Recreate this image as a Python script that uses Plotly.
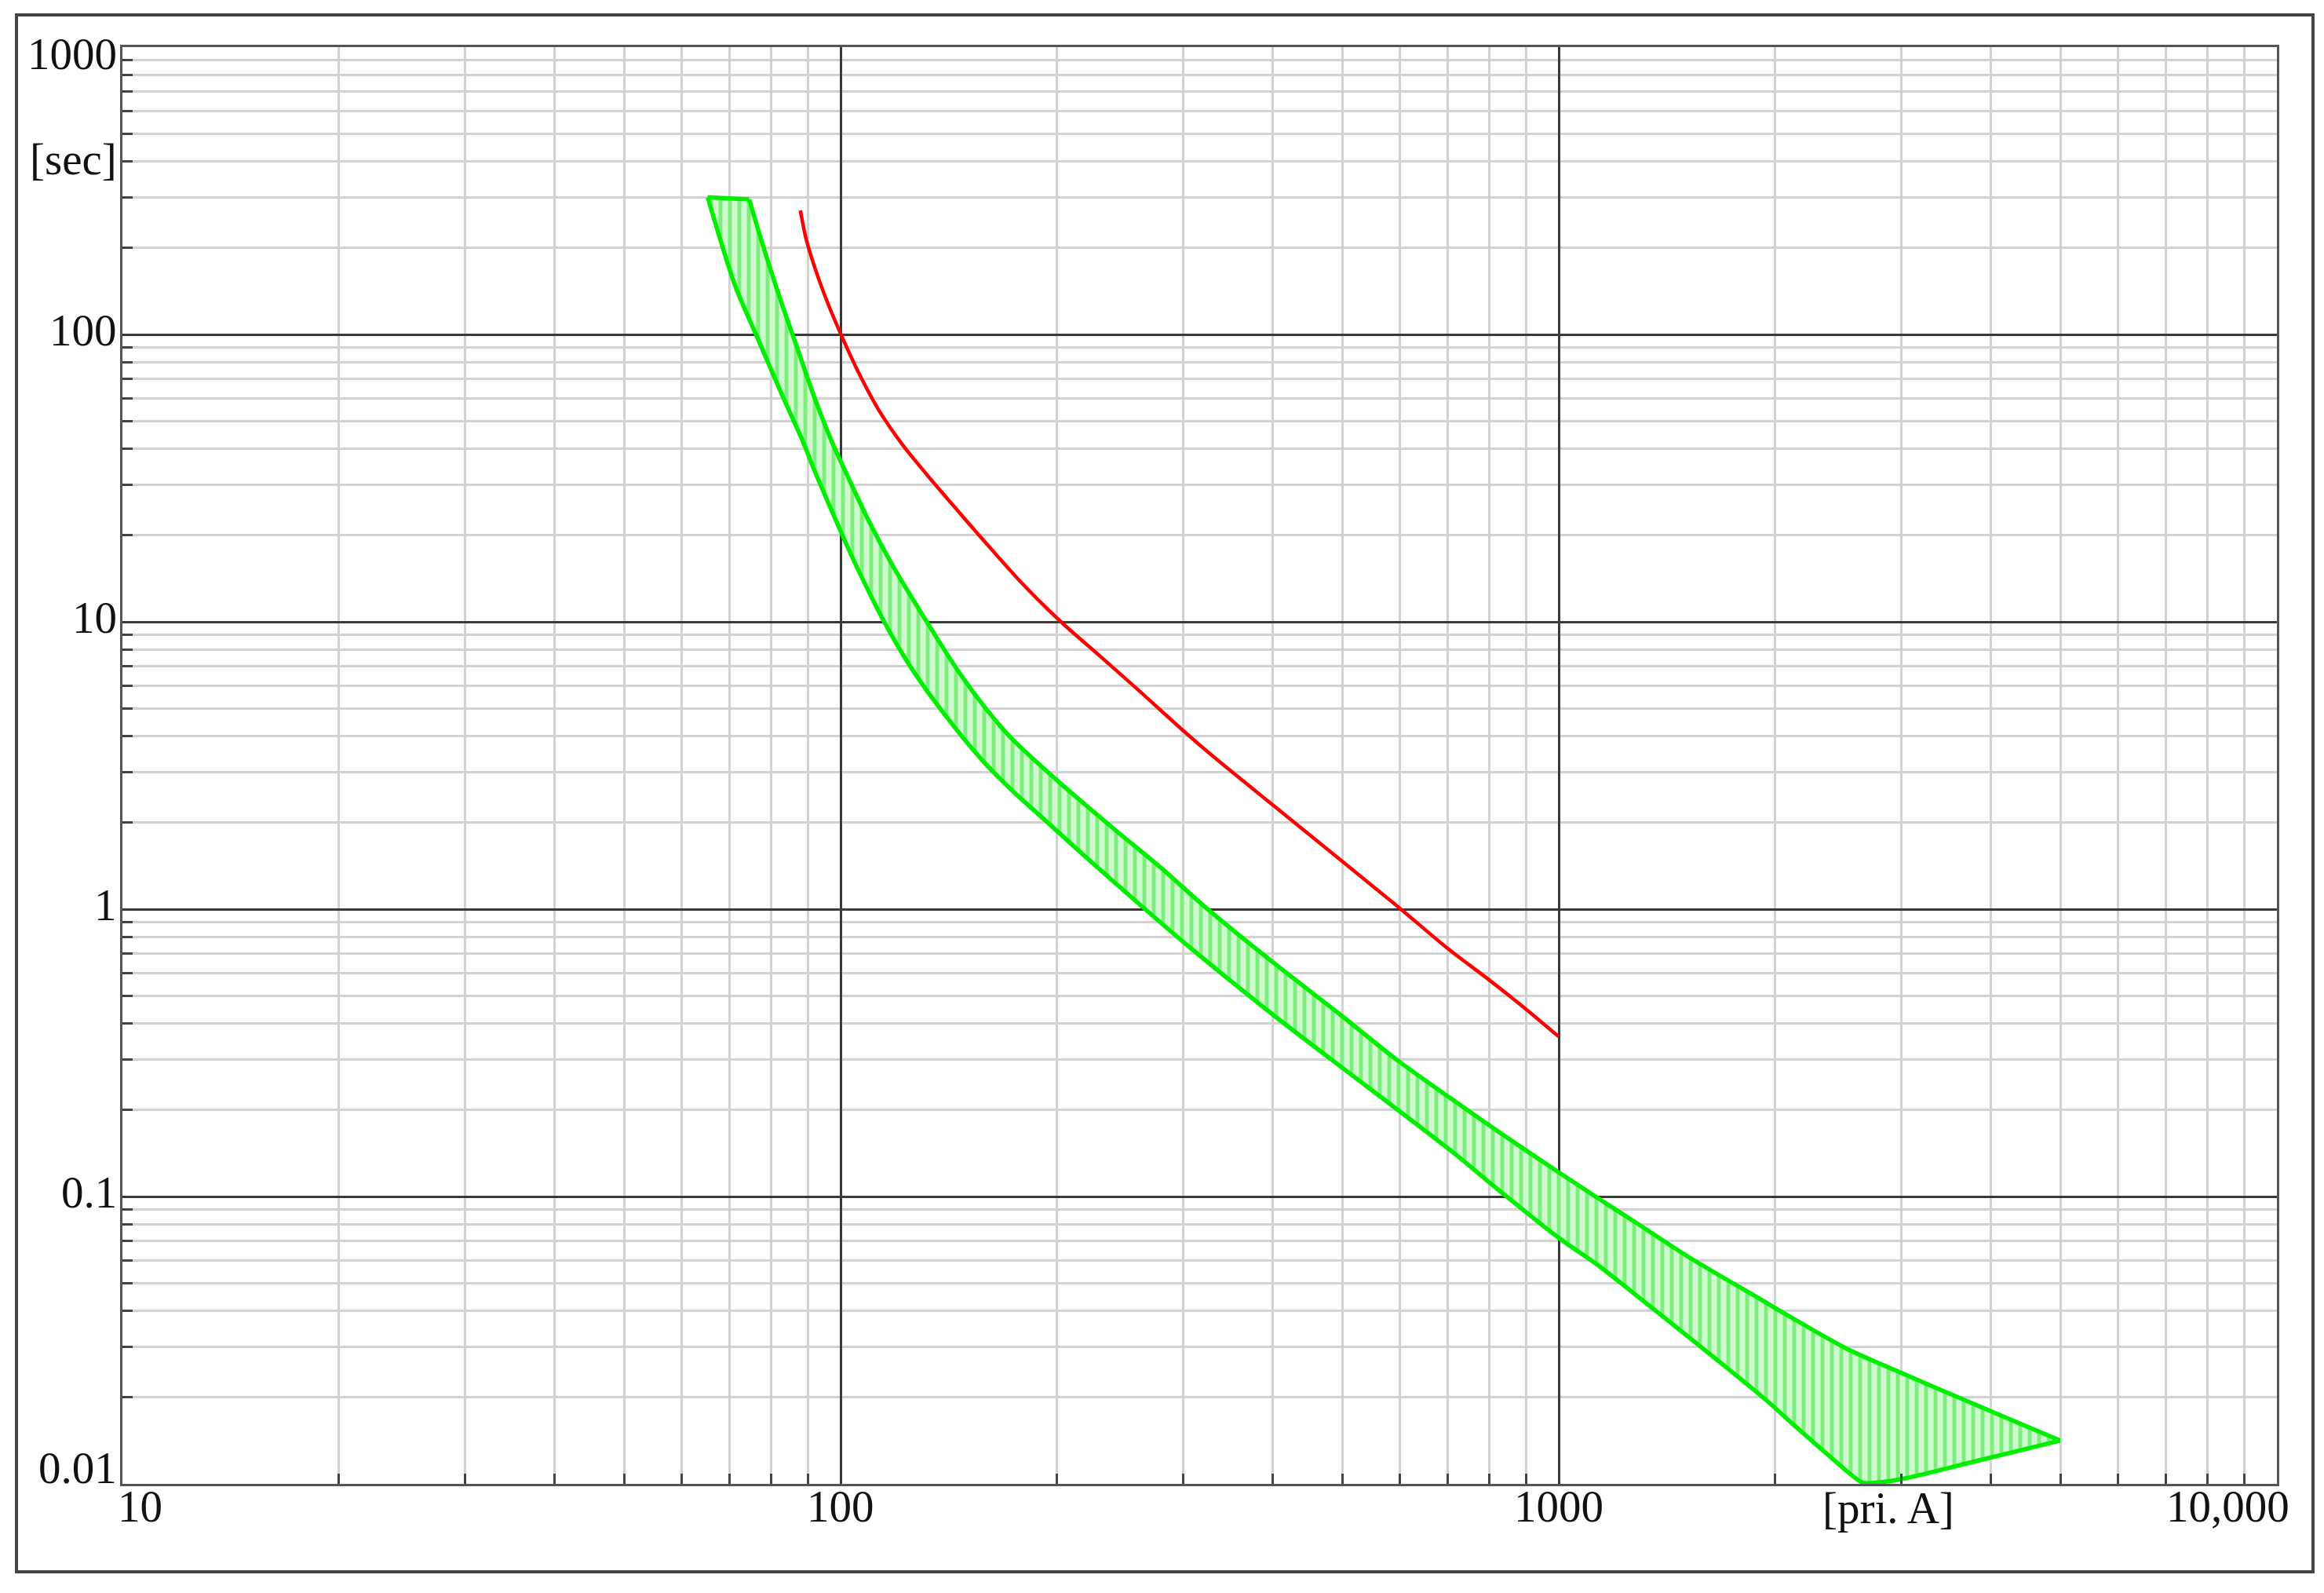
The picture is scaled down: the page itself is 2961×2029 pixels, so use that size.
import numpy as np
import plotly.graph_objects as go

# ---------------- data ----------------
# Red relay curve: current [pri. A] vs time [sec]
red_current = [87.9, 89.5, 92.5, 96.4, 100.2, 105.7, 113.2, 122, 131.5, 143.1, 157,
               179.5, 202.7, 227, 259.6, 301, 333.6, 401, 499, 600, 698, 798, 899, 1000]
red_time = [270, 216, 165, 125, 99.6, 74.5, 54.2, 41.3, 32.8, 25.6, 19.6,
            13.5, 10.0, 7.8, 5.8, 4.15, 3.33, 2.29, 1.47, 1.01, 0.735, 0.57, 0.45, 0.36]

# Green fuse band: lower (left) boundary, from top-left corner to the tip
band_lower_current = [65.3, 71.3, 76.3, 83.2, 88.7, 91.7, 96.1, 101.5, 105.5, 115, 125,
                      139.5, 157, 173.5, 191.8, 219.4, 259.6, 301.7, 401, 483, 710, 826,
                      1002, 1136, 1256, 1590, 1943, 2115, 2399, 2650, 2764, 3006, 3803, 4990]
band_lower_time = [300, 148, 99.6, 60.3, 42.2, 34.2, 26, 19, 15.4, 10.0, 7.0,
                   4.77, 3.33, 2.58, 2.06, 1.52, 1.05, 0.76, 0.427, 0.299, 0.1435, 0.105,
                   0.0715, 0.0575, 0.0472, 0.0295, 0.0196, 0.0162, 0.0123, 0.0101, 0.0101,
                   0.0104, 0.01198, 0.01415]

# Green fuse band: upper (right) boundary, from top-right corner to the tip
band_upper_current = [74.6, 77.6, 82.3, 87.3, 91.7, 97.3, 102.3, 109.4, 118, 131.5, 146.6,
                      159.5, 173.5, 201.7, 238.6, 282.4, 320, 401, 499, 595, 710, 839,
                      1002, 1136, 1277, 1510, 1863, 2500, 2958, 3741, 4990]
band_upper_time = [295, 212, 134, 87.7, 61.5, 42.2, 32.1, 22.5, 15.8, 10.1, 6.6,
                   4.97, 3.9, 2.76, 1.93, 1.36, 1.03, 0.65, 0.425, 0.299, 0.218, 0.163,
                   0.121, 0.0984, 0.0815, 0.062, 0.0455, 0.0298, 0.0247, 0.0192,
                   0.01415]

# Tick labels
x_tick_vals = [10, 100, 1000, 10000]
x_tick_text = ["10", "100", "1000", "10,000"]
y_tick_vals = [1000, 100, 10, 1, 0.1, 0.01]
y_tick_text = ["1000", "100", "10", "1", "0.1", "0.01"]
x_unit = "[pri. A]"
y_unit = "[sec]"

# ---------------- figure ----------------
W, H = 2961, 2029
L, R, T, B = 156, 60, 60, 139
pw, ph = W - L - R, H - T - B

FONT = "Liberation Serif, Times New Roman, serif"
FS = 57
GREEN = "#00ee00"

fig = go.Figure()

# closed polygon for the band fill: lower boundary down to the tip, upper boundary back up
poly_x = band_lower_current + band_upper_current[::-1][1:] + [band_lower_current[0]]
poly_y = band_lower_time + band_upper_time[::-1][1:] + [band_lower_time[0]]

fig.add_trace(go.Scatter(
    x=poly_x, y=poly_y, mode="lines", fill="toself",
    fillcolor="rgb(205,250,205)",
    fillpattern=dict(shape="|", size=12, solidity=0.4, fgcolor="#2ee02e",
                     fillmode="overlay"),
    line=dict(color="rgba(0,0,0,0)", width=0),
    hoverinfo="skip", showlegend=False,
))

# band outline: two smooth boundaries plus the flat top cap
for bx, by in ((band_lower_current, band_lower_time), (band_upper_current, band_upper_time)):
    fig.add_trace(go.Scatter(
        x=bx, y=by, mode="lines",
        line=dict(color=GREEN, width=5.5, shape="spline", smoothing=0.8),
        hoverinfo="skip", showlegend=False,
    ))
fig.add_trace(go.Scatter(
    x=[band_lower_current[0], band_upper_current[0]],
    y=[band_lower_time[0], band_upper_time[0]], mode="lines",
    line=dict(color=GREEN, width=5.5),
    hoverinfo="skip", showlegend=False,
))

fig.add_trace(go.Scatter(
    x=red_current, y=red_time, mode="lines",
    line=dict(color="#ff0000", width=4.5, shape="spline", smoothing=0.8),
    hoverinfo="skip", showlegend=False,
))

grid_major = "#3a3a3a"
grid_minor = "#d2d2d2"
axis_common = dict(
    type="log", showgrid=True, gridcolor=grid_major, gridwidth=3,
    dtick=1, ticks="", showticklabels=False, zeroline=False,
    showline=True, linecolor="#555555", linewidth=3, mirror=True,
    minor=dict(dtick="D1", showgrid=True, gridcolor=grid_minor, gridwidth=2.5,
               ticks="inside", ticklen=13, tickwidth=2.5, tickcolor="#444444"),
)
fig.update_xaxes(range=[1, 4], **axis_common)
fig.update_yaxes(range=[-2, 3], **axis_common)

annotations = []
# x tick labels
for i, (v, t) in enumerate(zip(x_tick_vals, x_tick_text)):
    if i == 0:
        anchor, xs = "left", -8
    elif i == len(x_tick_vals) - 1:
        anchor, xs = "right", 18
    else:
        anchor, xs = "center", 0
    annotations.append(dict(
        x=np.log10(v), xref="x", y=0, yref="paper", text=t, showarrow=False,
        xanchor=anchor, yanchor="middle", xshift=xs, yshift=-28,
        font=dict(family=FONT, size=FS, color="#111111"),
    ))
# y tick labels
for i, (v, t) in enumerate(zip(y_tick_vals, y_tick_text)):
    if i == 0:
        ys = -8
    elif i == len(y_tick_vals) - 1:
        ys = 21
    else:
        ys = 6
    annotations.append(dict(
        x=0, xref="paper", y=np.log10(v), yref="y", text=t, showarrow=False,
        xanchor="right", yanchor="middle", xshift=-5, yshift=ys,
        font=dict(family=FONT, size=FS, color="#111111"),
    ))
# unit labels
annotations.append(dict(
    x=0, xref="paper", y=(H - B - 203) / ph, yref="paper", text=y_unit,
    showarrow=False, xanchor="right", yanchor="middle", xshift=-5,
    font=dict(family=FONT, size=FS, color="#111111"),
))
annotations.append(dict(
    x=(2406 - L) / pw, xref="paper", y=0, yref="paper", text=x_unit,
    showarrow=False, xanchor="center", yanchor="middle", yshift=-30,
    font=dict(family=FONT, size=FS, color="#111111"),
))

# outer frame around the whole chart
frame = dict(
    type="rect", xref="paper", yref="paper",
    x0=(21 - L) / pw, x1=(2947 - L) / pw,
    y0=(H - B - 2002) / ph, y1=(H - B - 19) / ph,
    line=dict(color="#444444", width=4), fillcolor="rgba(0,0,0,0)", layer="above",
)

fig.update_layout(
    width=W, height=H, autosize=False,
    margin=dict(l=L, r=R, t=T, b=B, pad=0),
    paper_bgcolor="white", plot_bgcolor="white",
    annotations=annotations, shapes=[frame],
    showlegend=False,
)

fig.write_html(
    "out.html",
    config={"displayModeBar": False},
    post_script="document.body.style.margin='0';document.body.style.overflow='hidden';",
)
